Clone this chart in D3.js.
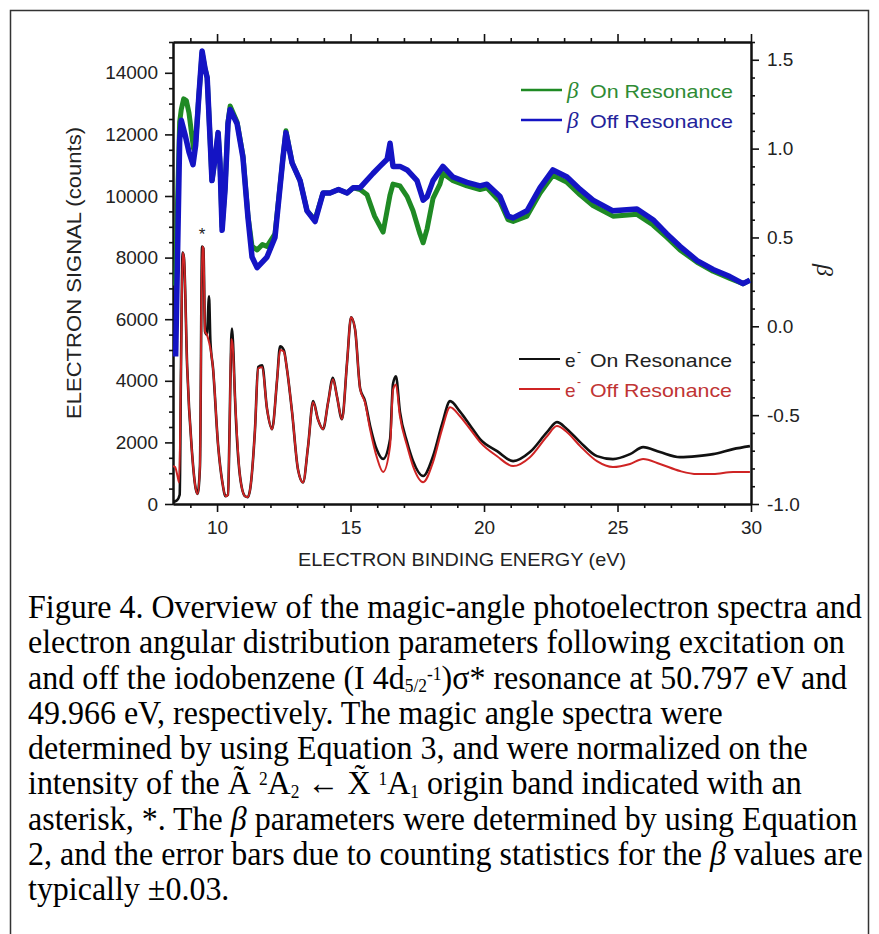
<!DOCTYPE html>
<html>
<head>
<meta charset="utf-8">
<script src="https://cdn.jsdelivr.net/npm/d3@7"></script>
<style>
  body { margin: 0; background: #fff; }
  svg { display: block; }
  .axis text { font-family: "Liberation Sans", Arial, sans-serif; font-size: 19px; fill: #222; }
  .axis path, .axis line { stroke: #111; }
</style>
</head>
<body>
<svg id="fig" width="879" height="934"></svg>
<script>
// Tick values for the three axes
const energyTicks = [10, 15, 20, 25, 30];
const countTicks = [0, 2000, 4000, 6000, 8000, 10000, 12000, 14000];
const betaTicks = [-1.0, -0.5, 0.0, 0.5, 1.0, 1.5];

// Angular distribution parameter beta vs binding energy (eV)
const betaOn = [
  [8.45,0.23],[8.52,0.70],[8.60,1.15],[8.66,1.22],[8.75,1.28],[8.85,1.27],[8.95,1.20],[9.05,1.08],
  [9.12,1.00],[9.20,1.04],[9.32,1.30],[9.44,1.54],[9.55,1.45],[9.63,1.40],[9.74,1.05],[9.81,0.82],
  [9.93,0.95],[10.04,1.09],[10.11,0.92],[10.19,0.56],[10.30,0.78],[10.41,1.15],[10.49,1.24],[10.75,1.15],
  [10.97,0.96],[11.16,0.62],[11.31,0.45],[11.50,0.43],[11.70,0.46],[11.87,0.45],[12.17,0.52],[12.47,0.95],
  [12.58,1.10],[12.81,0.92],[13.11,0.82],[13.37,0.65],[13.67,0.60],[13.97,0.75],[14.23,0.75],[14.55,0.77],
  [14.87,0.75],[15.10,0.78],[15.36,0.77],[15.62,0.74],[15.90,0.62],[16.22,0.53],[16.48,0.74],[16.59,0.80],
  [16.85,0.79],[17.12,0.73],[17.34,0.65],[17.60,0.52],[17.72,0.47],[17.87,0.55],[18.09,0.72],[18.35,0.80],
  [18.46,0.86],[18.84,0.82],[19.36,0.79],[19.85,0.77],[20.11,0.78],[20.60,0.70],[20.90,0.60],[21.09,0.59],
  [21.61,0.62],[22.10,0.75],[22.58,0.85],[23.11,0.81],[23.60,0.74],[24.08,0.68],[24.83,0.62],[25.73,0.63],
  [26.33,0.57],[26.85,0.50],[27.34,0.43],[27.98,0.36],[28.58,0.31],[29.21,0.27],[29.70,0.24],[29.96,0.26]
];
const betaOff = [
  [8.45,-0.17],[8.52,0.40],[8.60,1.05],[8.66,1.16],[8.80,1.08],[8.95,0.98],[9.10,0.91],[9.20,1.02],
  [9.32,1.30],[9.44,1.55],[9.55,1.45],[9.63,1.40],[9.74,1.05],[9.81,0.82],[9.93,0.95],[10.04,1.09],
  [10.11,0.92],[10.19,0.54],[10.30,0.77],[10.41,1.14],[10.49,1.22],[10.75,1.14],[10.97,0.95],[11.16,0.61],
  [11.31,0.39],[11.50,0.33],[11.87,0.39],[12.17,0.50],[12.47,0.95],[12.58,1.09],[12.81,0.92],[13.11,0.82],
  [13.37,0.65],[13.67,0.59],[13.97,0.75],[14.23,0.75],[14.55,0.77],[14.87,0.75],[15.10,0.78],[15.36,0.78],
  [15.84,0.86],[16.10,0.90],[16.37,0.94],[16.48,1.03],[16.59,0.90],[16.85,0.90],[17.12,0.88],[17.49,0.82],
  [17.72,0.71],[17.87,0.73],[18.09,0.82],[18.46,0.90],[18.84,0.84],[19.36,0.81],[19.85,0.79],[20.11,0.80],
  [20.60,0.73],[20.90,0.62],[21.09,0.61],[21.61,0.65],[22.10,0.78],[22.58,0.88],[23.11,0.84],[23.60,0.77],
  [24.08,0.71],[24.83,0.65],[25.73,0.66],[26.33,0.60],[26.85,0.52],[27.34,0.45],[27.98,0.37],[28.58,0.32],
  [29.21,0.28],[29.70,0.24],[29.96,0.26]
];

// Magic-angle electron signal (counts) vs binding energy (eV)
const signalOn = [
  [8.35,60],[8.50,120],[8.60,300],[8.65,4470],[8.71,8160],[8.76,8000],[8.88,4470],[9.06,1700],
  [9.20,500],[9.27,330],[9.36,1230],[9.44,8360],[9.49,8300],[9.55,5600],[9.62,5500],[9.70,6740],
  [9.75,5300],[9.85,4400],[10.04,1900],[10.20,700],[10.32,250],[10.41,300],[10.47,2500],[10.53,5350],
  [10.56,5700],[10.60,5200],[10.67,3500],[10.86,900],[11.05,250],[11.15,220],[11.24,480],[11.42,2400],
  [11.54,4450],[11.69,4500],[11.87,3100],[12.06,2430],[12.25,4050],[12.36,5120],[12.50,5000],[12.62,4370],
  [12.81,2980],[13.03,1130],[13.22,700],[13.41,1880],[13.60,3340],[13.78,2750],[13.97,2430],[14.16,3300],
  [14.34,4100],[14.49,3500],[14.68,2750],[14.87,4600],[15.02,6060],[15.17,5670],[15.36,3750],[15.54,3350],
  [15.73,2550],[15.99,1750],[16.22,1460],[16.48,2100],[16.59,3900],[16.70,4150],[16.85,3000],[17.12,2000],
  [17.34,1400],[17.72,907],[18.09,1550],[18.43,2600],[18.73,3340],[19.10,3000],[19.48,2550],[19.85,2106],
  [20.49,1717],[21.09,1393],[21.72,1685],[22.36,2333],[22.73,2657],[23.11,2430],[23.60,2009],[24.23,1555],
  [24.83,1458],[25.47,1620],[25.96,1847],[26.59,1685],[27.34,1523],[27.98,1555],[28.58,1620],[29.33,1782],
  [29.96,1879]
];
const signalOff = [
  [8.35,1230],[8.43,1200],[8.52,900],[8.58,700],[8.65,4470],[8.71,8160],[8.76,8000],[8.88,4470],
  [9.06,1700],[9.20,500],[9.27,330],[9.36,1230],[9.44,8360],[9.49,8300],[9.55,5600],[9.62,5500],
  [9.70,5250],[9.78,4900],[9.85,4400],[10.04,1900],[10.20,700],[10.32,250],[10.41,300],[10.47,2500],
  [10.53,5350],[10.58,5200],[10.67,3500],[10.86,900],[11.05,250],[11.15,220],[11.24,480],[11.42,2400],
  [11.54,4400],[11.69,4440],[11.87,3100],[12.06,2430],[12.25,4050],[12.36,5000],[12.50,4950],[12.62,4370],
  [12.81,2980],[13.03,1130],[13.22,700],[13.41,1880],[13.60,3300],[13.78,2750],[13.97,2430],[14.16,3300],
  [14.34,4050],[14.49,3500],[14.68,2750],[14.87,4600],[15.02,6060],[15.17,5670],[15.36,3730],[15.54,3300],
  [15.73,2430],[15.99,1500],[16.22,1040],[16.48,1880],[16.59,3700],[16.70,3880],[16.85,2850],[17.12,1880],
  [17.34,1230],[17.72,710],[18.09,1360],[18.43,2430],[18.73,3140],[19.10,2850],[19.48,2430],[19.85,2010],
  [20.49,1550],[21.09,1230],[21.72,1520],[22.36,2200],[22.73,2530],[23.11,2330],[23.60,1880],[24.23,1390],
  [24.83,1200],[25.47,1300],[25.96,1460],[26.59,1300],[27.34,1070],[27.98,970],[28.58,970],[29.33,1040],
  [29.96,1040]
];

// Legend entries
const betaLegend = [
  { label: "On Resonance", color: "#1f8a24", text: "#2e8b34", data: betaOn },
  { label: "Off Resonance", color: "#1414c4", text: "#23239a", data: betaOff }
];
const signalLegend = [
  { label: "On Resonance", color: "#111111", text: "#222222", data: signalOn },
  { label: "Off Resonance", color: "#cf2424", text: "#c03434", data: signalOff }
];

// Caption lines: each a list of [text, style] pieces
const captionLines = [
  [["Figure 4. Overview of the magic-angle photoelectron spectra and", ""]],
  [["electron angular distribution parameters following excitation on", ""]],
  [["and off the iodobenzene (I 4d", ""], ["5/2", "sub"], ["-1", "supAfterSub"], [")σ* resonance at 50.797 eV and", "back"]],
  [["49.966 eV, respectively. The magic angle spectra were", ""]],
  [["determined by using Equation 3, and were normalized on the", ""]],
  [["intensity of the Ã ", ""], ["2", "sup"], ["A", "back"], ["2", "sub"], [" ← X\u0303 ", "backSub"], ["1", "sup"], ["A", "back"], ["1", "sub"], [" origin band indicated with an", "backSub"]],
  [["asterisk, *. The ", ""], ["β", "it"], [" parameters were determined by using Equation", ""]],
  [["2, and the error bars due to counting statistics for the ", ""], ["β", "it"], [" values are", ""]],
  [["typically ±0.03.", ""]]
];

const svg = d3.select("#fig");
const plotL = 173, plotR = 751, plotT = 42, plotB = 504;

// Outer frame
svg.append("path")
  .attr("d", `M10.5,934 V10.5 H868.5 V934`)
  .attr("fill", "none").attr("stroke", "#333").attr("stroke-width", 1.5);

const x = d3.scaleLinear().domain([8.35, 30]).range([plotL, plotR]);
const yL = d3.scaleLinear().domain([0, 15000]).range([plotB, plotT]);
const yR = d3.scaleLinear().domain([-1, 1.6]).range([plotB, plotT]);

const minorE = d3.range(9, 30).filter(v => v % 5 !== 0);
const minorC = d3.range(0, 15001, 500).filter(v => v % 2000 !== 0);
const minorB = d3.range(-10, 17).filter(v => v % 5 !== 0).map(v => v / 10);

function styleAxis(g) {
  g.attr("class", "axis");
  g.select(".domain").attr("stroke-width", 2);
  g.selectAll(".tick line").attr("stroke-width", 1.6);
}

// Bottom axis
svg.append("g").attr("transform", `translate(0,${plotB})`)
  .call(d3.axisBottom(x).tickValues(energyTicks).tickSize(8).tickSizeOuter(0).tickPadding(9).tickFormat(d3.format("d")))
  .call(styleAxis);
svg.append("g").attr("transform", `translate(0,${plotB})`)
  .call(d3.axisBottom(x).tickValues(minorE).tickSize(4).tickSizeOuter(0).tickFormat(""))
  .call(styleAxis);
// Top axis
svg.append("g").attr("transform", `translate(0,${plotT})`)
  .call(d3.axisTop(x).tickValues(energyTicks).tickSize(8).tickSizeOuter(0).tickFormat(""))
  .call(styleAxis);
svg.append("g").attr("transform", `translate(0,${plotT})`)
  .call(d3.axisTop(x).tickValues(minorE).tickSize(4).tickSizeOuter(0).tickFormat(""))
  .call(styleAxis);
// Left axis (counts)
svg.append("g").attr("transform", `translate(${plotL},0)`)
  .call(d3.axisLeft(yL).tickValues(countTicks).tickSize(8).tickSizeOuter(0).tickPadding(7).tickFormat(d3.format("d")))
  .call(styleAxis);
svg.append("g").attr("transform", `translate(${plotL},0)`)
  .call(d3.axisLeft(yL).tickValues(minorC).tickSize(4).tickSizeOuter(0).tickFormat(""))
  .call(styleAxis);
// Right axis (beta)
svg.append("g").attr("transform", `translate(${plotR},0)`)
  .call(d3.axisRight(yR).tickValues(betaTicks).tickSize(8).tickSizeOuter(0).tickPadding(8).tickFormat(d => d.toFixed(1)))
  .call(styleAxis);
svg.append("g").attr("transform", `translate(${plotR},0)`)
  .call(d3.axisRight(yR).tickValues(minorB).tickSize(4).tickSizeOuter(0).tickFormat(""))
  .call(styleAxis);

// Axis titles
svg.append("text")
  .attr("x", (plotL + plotR) / 2).attr("y", 566)
  .attr("text-anchor", "middle")
  .attr("font-family", "Liberation Sans, Arial, sans-serif").attr("font-size", 18.5)
  .attr("fill", "#222")
  .attr("textLength", 328).attr("lengthAdjust", "spacingAndGlyphs")
  .text("ELECTRON BINDING ENERGY  (eV)");
svg.append("text")
  .attr("transform", `translate(81,${(plotT + plotB) / 2}) rotate(-90)`)
  .attr("text-anchor", "middle")
  .attr("font-family", "Liberation Sans, Arial, sans-serif").attr("font-size", 20)
  .attr("fill", "#222")
  .attr("textLength", 292).attr("lengthAdjust", "spacingAndGlyphs")
  .text("ELECTRON SIGNAL  (counts)");
svg.append("text")
  .attr("transform", `translate(817,270) rotate(90)`)
  .attr("text-anchor", "middle")
  .attr("font-family", "Liberation Serif, serif").attr("font-style", "italic").attr("font-size", 24)
  .attr("fill", "#222")
  .text("β");

// Plot lines, clipped to the frame
svg.append("clipPath").attr("id", "plotClip")
  .append("rect").attr("x", plotL).attr("y", plotT).attr("width", plotR - plotL).attr("height", plotB - plotT);
const plot = svg.append("g").attr("clip-path", "url(#plotClip)");

const betaLine = d3.line().x(d => x(d[0])).y(d => yR(d[1]));
const signalLine = d3.line().x(d => x(d[0])).y(d => yL(d[1])).curve(d3.curveMonotoneX);

betaLegend.forEach((s, i) => {
  plot.append("path").datum(s.data)
    .attr("d", betaLine).attr("fill", "none")
    .attr("stroke", s.color).attr("stroke-width", i === 0 ? 5 : 5.5)
    .attr("stroke-linejoin", "round");
});
signalLegend.forEach((s, i) => {
  plot.append("path").datum(s.data)
    .attr("d", signalLine).attr("fill", "none")
    .attr("stroke", s.color).attr("stroke-width", i === 0 ? 2.6 : 2)
    .attr("stroke-linejoin", "round");
});

// Asterisk marking the origin band
svg.append("text")
  .attr("x", x(9.44)).attr("y", 240)
  .attr("text-anchor", "middle")
  .attr("font-family", "Liberation Sans, Arial, sans-serif").attr("font-size", 17)
  .attr("fill", "#222").text("*");

// Legends
const legendFont = "Liberation Sans, Arial, sans-serif";
betaLegend.forEach((s, i) => {
  const y0 = 90 + i * 30;
  svg.append("line").attr("x1", 521).attr("x2", 562).attr("y1", y0).attr("y2", y0)
    .attr("stroke", s.color).attr("stroke-width", 2.4);
  svg.append("text").attr("x", 567).attr("y", y0 + 8)
    .attr("font-family", "Liberation Serif, serif").attr("font-style", "italic").attr("font-size", 23)
    .attr("fill", s.text).text("β");
  svg.append("text").attr("x", 590).attr("y", y0 + 8)
    .attr("font-family", legendFont).attr("font-size", 19)
    .attr("textLength", 143).attr("lengthAdjust", "spacingAndGlyphs")
    .attr("fill", s.text).text(s.label);
});
signalLegend.forEach((s, i) => {
  const y0 = 359 + i * 30;
  svg.append("line").attr("x1", 519).attr("x2", 560).attr("y1", y0).attr("y2", y0)
    .attr("stroke", s.color).attr("stroke-width", 2.2);
  svg.append("text").attr("x", 565).attr("y", y0 + 8)
    .attr("font-family", legendFont).attr("font-size", 19)
    .attr("fill", s.text).text("e");
  svg.append("text").attr("x", 577).attr("y", y0 - 3)
    .attr("font-family", legendFont).attr("font-size", 12)
    .attr("fill", s.text).text("-");
  svg.append("text").attr("x", 590).attr("y", y0 + 8)
    .attr("font-family", legendFont).attr("font-size", 19)
    .attr("textLength", 142).attr("lengthAdjust", "spacingAndGlyphs")
    .attr("fill", s.text).text(s.label);
});

// Caption
const cap = svg.append("g").attr("font-family", "Liberation Serif, 'Times New Roman', serif")
  .attr("font-size", 33).attr("fill", "#000");
const shift = { sub: 3, sup: -9, supAfterSub: -12, back: 9, backSub: -3 };
const capLines = captionLines.map((pieces, i) => {
  const t = cap.append("text").attr("x", 0).attr("y", 618 + i * 35.3);
  pieces.forEach(([txt, st]) => {
    const ts = t.append("tspan").text(txt);
    if (st === "it") ts.attr("font-style", "italic");
    if (st === "sub" || st === "sup" || st === "supAfterSub") ts.attr("font-size", 18);
    if (shift[st]) ts.attr("dy", shift[st]);
  });
  return t;
});
const firstLen = capLines[0].node().getComputedTextLength();
const sx = 834 / firstLen;
cap.attr("transform", `translate(28,0) scale(${sx},1)`);
</script>
</body>
</html>
